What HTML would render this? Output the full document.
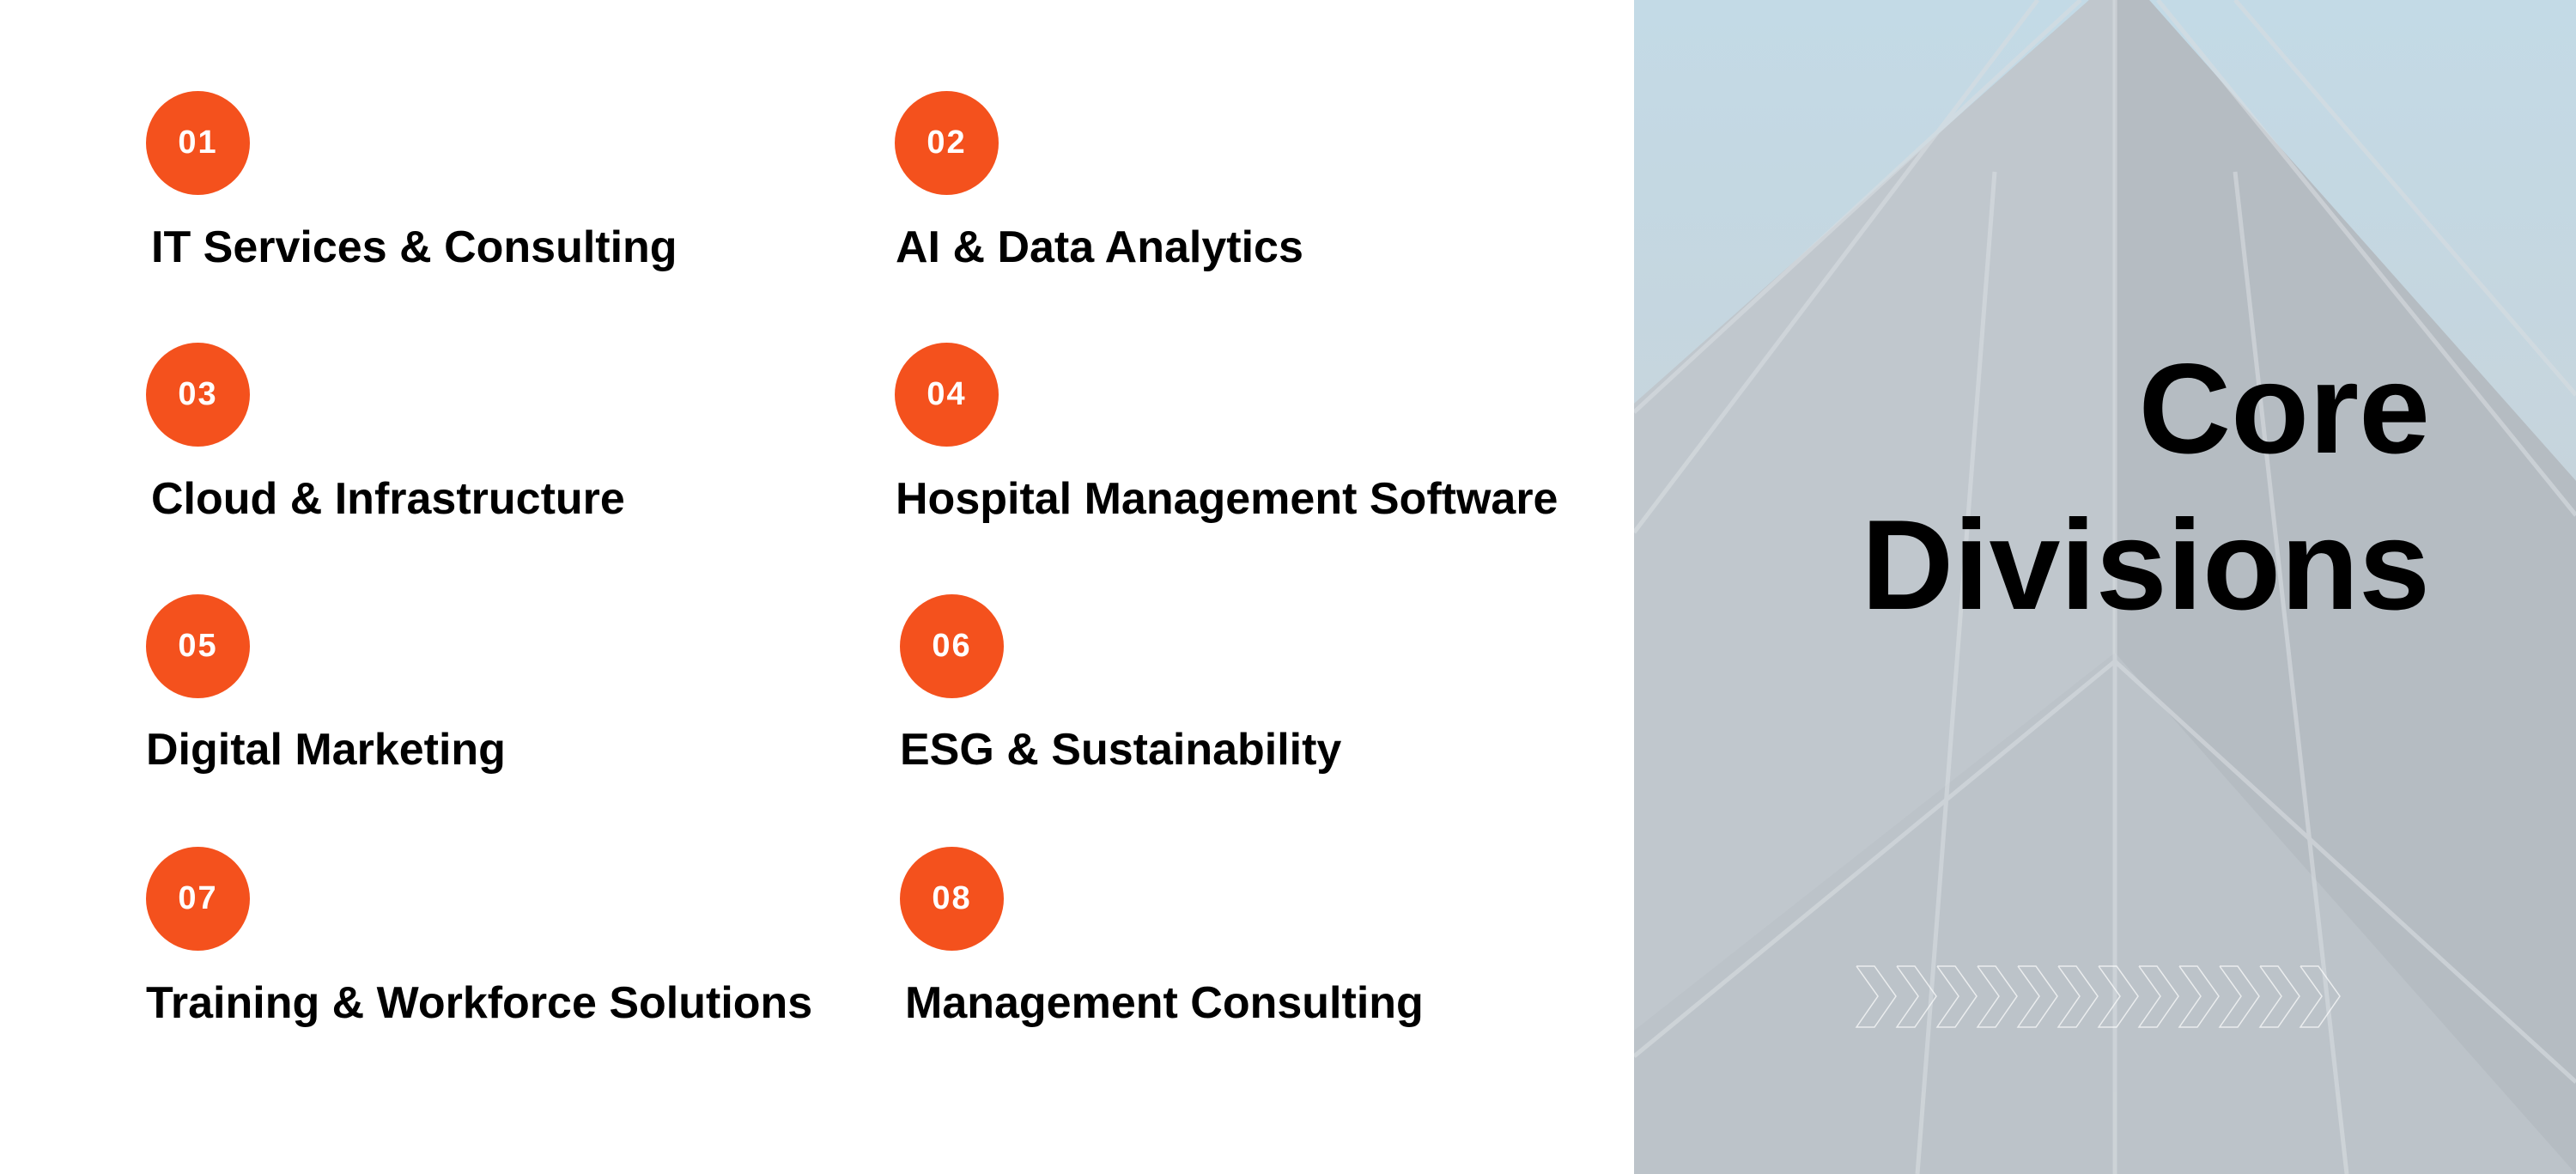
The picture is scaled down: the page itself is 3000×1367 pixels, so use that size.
<!DOCTYPE html>
<html><head><meta charset="utf-8"><style>
body{margin:0;width:3000px;height:1367px;position:relative;overflow:hidden;background:#fff;font-family:"Liberation Sans",sans-serif}
.c{position:absolute;width:121px;height:121px;border-radius:50%;background:#f4511d;color:#fff;font-weight:bold;font-size:38px;display:flex;align-items:center;justify-content:center;letter-spacing:2px}
.t{position:absolute;font-weight:bold;font-size:52px;color:#000;line-height:1;white-space:nowrap}
#img{position:absolute;left:1903px;top:0;width:1097px;height:1367px}
#title{position:absolute;right:170px;top:385px;text-align:right;font-weight:bold;font-size:149px;line-height:182px;color:#000}
</style></head><body>
<svg id="img" viewBox="0 0 1097 1367">
<defs><linearGradient id="sky" x1="0" y1="0" x2="0" y2="1"><stop offset="0" stop-color="#c3dae6"/><stop offset="0.5" stop-color="#c7d3da"/><stop offset="1" stop-color="#c6ccd1"/></linearGradient></defs>
<rect width="1097" height="1367" fill="url(#sky)"/>
<polygon points="0,470 530,0 600,0 1097,560 1097,1367 0,1367" fill="#bcc3c9"/>
<polygon points="0,470 530,0 560,0 560,760 0,1200" fill="#c0c7cd"/>
<polygon points="560,0 600,0 1097,560 1097,1367 560,760" fill="#b5bcc2"/>
<g stroke="#d8dde1" stroke-width="5" fill="none" opacity="0.6">
<line x1="520" y1="0" x2="0" y2="480"/><line x1="470" y1="0" x2="0" y2="620"/><line x1="560" y1="0" x2="560" y2="1367"/>
<line x1="610" y1="0" x2="1097" y2="600"/><line x1="700" y1="0" x2="1097" y2="460"/>
<line x1="560" y1="770" x2="0" y2="1230"/><line x1="560" y1="770" x2="1097" y2="1260"/>
<line x1="420" y1="200" x2="330" y2="1367"/><line x1="700" y1="200" x2="830" y2="1367"/>
</g>
<g stroke="#fff" stroke-width="1.5" fill="none" opacity="0.7">
<g id="ch"><polyline points="259,1125 280,1125 305,1160 280,1196 259,1196 284,1160 259,1125"/></g>
<use href="#ch" x="47"/><use href="#ch" x="94"/><use href="#ch" x="141"/><use href="#ch" x="188"/><use href="#ch" x="235"/><use href="#ch" x="282"/><use href="#ch" x="329"/><use href="#ch" x="376"/><use href="#ch" x="423"/><use href="#ch" x="470"/><use href="#ch" x="517"/>
</g>
</svg>
<div id="title">Core<br>Divisions</div>
<div class="c" style="left:170px;top:106px">01</div>
<div class="c" style="left:1042px;top:106px">02</div>
<div class="c" style="left:170px;top:399px">03</div>
<div class="c" style="left:1042px;top:399px">04</div>
<div class="c" style="left:170px;top:692px">05</div>
<div class="c" style="left:1048px;top:692px">06</div>
<div class="c" style="left:170px;top:986px">07</div>
<div class="c" style="left:1048px;top:986px">08</div>
<div class="t" style="left:176px;top:262px">IT Services &amp; Consulting</div>
<div class="t" style="left:1043px;top:262px">AI &amp; Data Analytics</div>
<div class="t" style="left:176px;top:555px">Cloud &amp; Infrastructure</div>
<div class="t" style="left:1043px;top:555px">Hospital Management Software</div>
<div class="t" style="left:170px;top:847px">Digital Marketing</div>
<div class="t" style="left:1048px;top:847px">ESG &amp; Sustainability</div>
<div class="t" style="left:170px;top:1142px">Training &amp; Workforce Solutions</div>
<div class="t" style="left:1054px;top:1142px">Management Consulting</div>
</body></html>
